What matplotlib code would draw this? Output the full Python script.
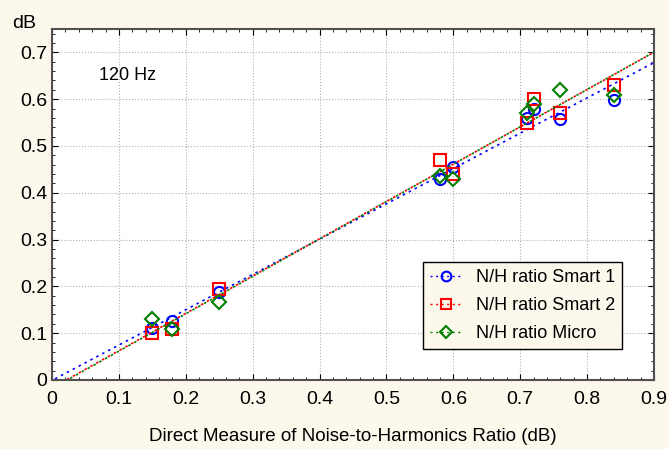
import numpy as np
import matplotlib.pyplot as plt

plt.rcParams['font.family'] = ['Liberation Sans', 'DejaVu Sans']

x = [0.15, 0.18, 0.25, 0.58, 0.60, 0.71, 0.72, 0.76, 0.84]
smart1 = [0.112, 0.127, 0.188, 0.43, 0.455, 0.56, 0.58, 0.557, 0.598]
smart2 = [0.10, 0.11, 0.195, 0.47, 0.44, 0.55, 0.60, 0.57, 0.63]
micro = [0.13, 0.11, 0.167, 0.435, 0.43, 0.57, 0.59, 0.62, 0.61]

series = [
    ('N/H ratio Smart 1', smart1, 'blue', 'o'),
    ('N/H ratio Smart 2', smart2, 'red', 's'),
    ('N/H ratio Micro', micro, 'green', 'D'),
]

bg = '#fdf8ec'
fig = plt.figure(figsize=(6.69, 4.49), dpi=100, facecolor=bg)
ax = fig.add_axes([52 / 669, 69 / 449, 602 / 669, 351 / 449])

xs = np.array(x)
xx = np.linspace(0, 0.9, 200)
for name, ys, col, mk in series:
    k, b = np.polyfit(xs, ys, 1)
    yy = k * xx + b
    keep = yy >= 0
    ax.plot(xx[keep], yy[keep], color=col, ls=(0, (1.5, 2.5)), lw=1.2)
    ax.plot(x, ys, ls='none', marker=mk, ms=8 if mk != 'D' else 7,
            mfc='none', mec=col, mew=1.5)

# legend handles: marker with dotted line
handles = []
for name, ys, col, mk in series:
    h, = ax.plot([], [], color=col, ls=(0, (1.5, 2.5)), lw=1.0, marker=mk,
                 ms=7 if mk != 'D' else 6, mfc='none', mec=col, mew=1.5, label=name)
    handles.append(h)
leg = ax.legend(handles=handles, loc='lower right', bbox_to_anchor=(0.947, 0.088),
                borderaxespad=0, fontsize=13, frameon=True, fancybox=False,
                facecolor=bg, edgecolor='black', framealpha=1, handlelength=1.7,
                borderpad=0.4, labelspacing=0.6)
leg.get_frame().set_linewidth(1.0)

ax.set_xlim(0, 0.9)
ax.set_ylim(0, 0.75)
ax.set_xticks(np.arange(0, 0.91, 0.1))
ax.set_xticklabels(['0', '0.1', '0.2', '0.3', '0.4', '0.5', '0.6', '0.7', '0.8', '0.9'])
ax.set_yticks(np.arange(0, 0.71, 0.1))
ax.set_yticklabels(['0', '0.1', '0.2', '0.3', '0.4', '0.5', '0.6', '0.7'])
ax.set_xticks(np.arange(0, 0.9, 0.02), minor=True)
ax.set_yticks(np.arange(0, 0.75, 0.02), minor=True)
ax.tick_params(which='both', direction='in', top=True, right=True, labelsize=14)
ax.tick_params(which='major', length=4)
ax.tick_params(which='minor', length=2.5)
ax.tick_params(axis='x', pad=8)
ax.grid(True, which='major', color='#b0b0b0', ls=':', lw=0.8)
for s in ax.spines.values():
    s.set_color('#505050')
    s.set_linewidth(1.5)

ax.text(0.07, 0.65, '120 Hz', fontsize=13, ha='left', va='center')
ax.set_xlabel('Direct Measure of Noise-to-Harmonics Ratio (dB)', fontsize=13.5, labelpad=14)
fig.text(12 / 669, 1 - 24 / 449, 'dB', fontsize=14, ha='left', va='center')

fig.savefig('out.png', dpi=100, facecolor=bg)
